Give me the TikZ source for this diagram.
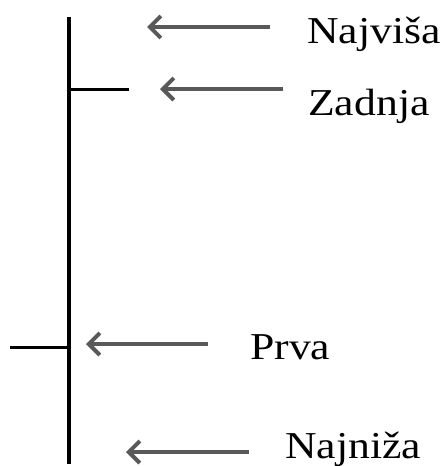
\documentclass[tikz,border=0pt]{standalone}
\usepackage{fontspec}
\setmainfont{Liberation Serif}[FakeStretch=1.15]
\usetikzlibrary{arrows.meta}
\begin{document}
\begin{tikzpicture}[x=1pt, y=-1pt,
    lbl/.style={anchor=base west, inner sep=0pt, font=\fontsize{38}{40}\selectfont},
    arr/.style={draw=black!65, line width=4pt, -{Straight Barb[length=11pt,width=22pt]}}]
      \useasboundingbox (0, 0) rectangle (445, 466);
      \draw [line width=4pt] (69, 17) -- (69, 464);
      \draw [line width=3pt] (69, 89) -- (129, 89)
                             (10, 347) -- (69, 347);
      \draw (307, 43) node (top) [lbl] {Najviša}
            (308, 115) node (last) [lbl] {Zadnja}
            (250, 359) node (first) [lbl] {Prva}
            (285, 458) node (bottom) [lbl] {Najniža};
      \coordinate (tops) at (270, 27);   \coordinate (tope) at (147, 27);
      \coordinate (lasts) at (283, 89);  \coordinate (laste) at (160, 89);
      \coordinate (firsts) at (208, 344); \coordinate (firste) at (86, 344);
      \coordinate (bots) at (249, 452);  \coordinate (bote) at (126, 452);
      \draw [arr] (tops) -- (tope);
      \draw [arr] (lasts) -- (laste);
      \draw [arr] (firsts) -- (firste);
      \draw [arr] (bots) -- (bote);
      \end{tikzpicture}
\end{document}
